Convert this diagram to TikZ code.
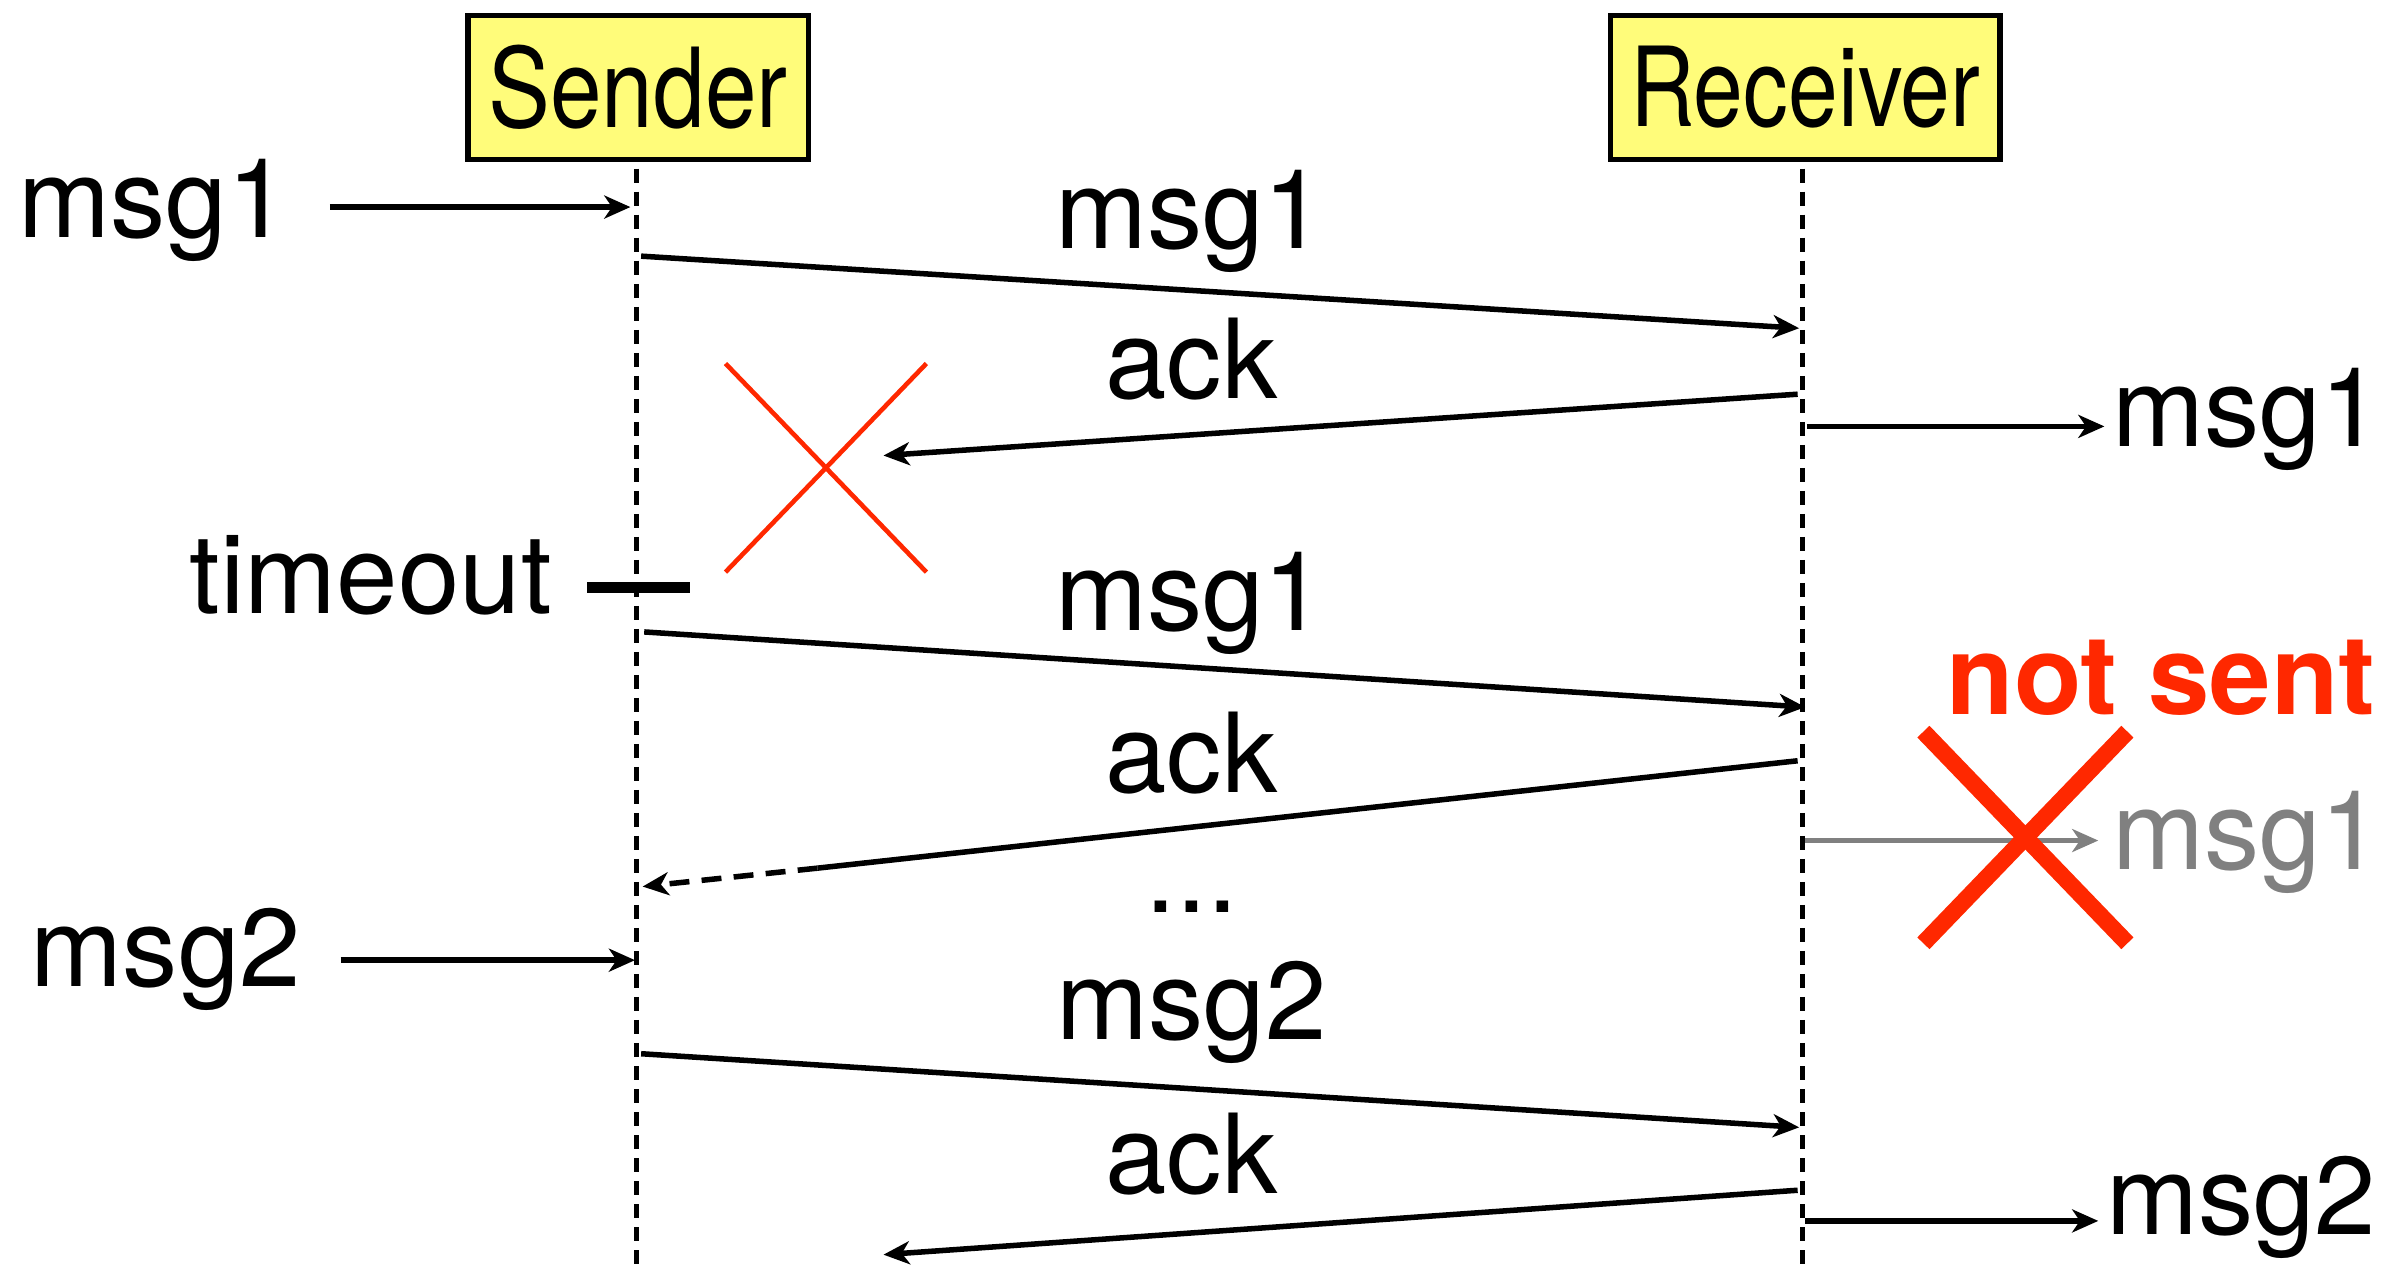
\documentclass[tikz,border=0pt]{standalone}
\usepackage{fontspec}
\setmainfont{TeX Gyre Heros}
\usetikzlibrary{arrows.meta}
\definecolor{boxyellow}{RGB}{255,252,122}
\definecolor{xred}{RGB}{255,40,0}
\definecolor{msggray}{RGB}{128,128,128}
\begin{document}
\begin{tikzpicture}[x=1pt,y=-1pt,
  lbl/.style={font=\fontsize{72}{80}\selectfont, inner sep=0pt, anchor=base},
  actor/.style={draw=black, line width=3.5pt, fill=boxyellow, minimum height=94pt, inner sep=0pt, font=\fontsize{72}{80}\selectfont},
  msgarrow/.style={line width=3.6pt, -{Stealth[length=17pt,width=15pt,inset=5pt]}},
  lifeline/.style={line width=3pt, dash pattern=on 9pt off 6pt},
  crossthin/.style={draw=xred, line width=3pt},
  crossthick/.style={draw=xred, line width=11pt}]
\useasboundingbox (0,0) rectangle (1568,827);
% actors
\node[actor, minimum width=222pt] (sender) at (416,57) {\scalebox{0.84}[1]{Sender}};
\node[actor, minimum width=254pt] (receiver) at (1177,57) {\scalebox{0.81}[1]{Receiver}};
% lifelines
\coordinate (sTop) at (415,110);
\coordinate (sBot) at (415,827);
\coordinate (rTop) at (1175,110);
\coordinate (rBot) at (1175,827);
\draw[lifeline] (sTop) -- (sBot);
\draw[lifeline] (rTop) -- (rBot);
% input msg1
\node[lbl, anchor=base west] (inMsgA) at (12,155) {msg1};
\coordinate (inA1) at (215,135);
\coordinate (inA2) at (411,135);
\draw[msgarrow] (inA1) -- (inA2);
% msg1 first
\node[lbl] (lMsgA) at (776,162) {msg1};
\coordinate (mA1) at (418,167);
\coordinate (mA2) at (1173,214);
\draw[msgarrow] (mA1) -- (mA2);
% ack lost
\node[lbl] (lAckA) at (777,260) {ack};
\coordinate (aA1) at (1172,257);
\coordinate (aA2) at (576,297);
\draw[msgarrow] (aA1) -- (aA2);
\coordinate (xA1) at (473,237);
\coordinate (xA2) at (604,373);
\coordinate (xA3) at (604,237);
\coordinate (xA4) at (473,373);
\draw[crossthin] (xA1) -- (xA2);
\draw[crossthin] (xA3) -- (xA4);
% delivered msg1
\coordinate (dA1) at (1178,278);
\coordinate (dA2) at (1372,278);
\draw[msgarrow] (dA1) -- (dA2);
\node[lbl, anchor=base west] (outMsgA) at (1377,291) {msg1};
% timeout
\node[lbl, anchor=base east] (timeout) at (360,400) {timeout};
\coordinate (tb1) at (383,383);
\coordinate (tb2) at (450,383);
\draw[line width=7pt] (tb1) -- (tb2);
% msg1 resent
\node[lbl] (lMsgB) at (776,411) {msg1};
\coordinate (mB1) at (420,412);
\coordinate (mB2) at (1177,461);
\draw[msgarrow] (mB1) -- (mB2);
% ack second
\node[lbl] (lAckB) at (777,517) {ack};
\coordinate (aB1) at (1172,496);
\coordinate (aB2) at (533,566);
\coordinate (aB3) at (419,578);
\draw[line width=3.6pt] (aB1) -- (aB2);
\draw[msgarrow, dash pattern=on 13pt off 8pt] (aB2) -- (aB3);
% not sent
\node[lbl, font=\fontsize{72}{80}\selectfont\bfseries, text=xred] (notsent) at (1409,466) {not sent};
\coordinate (gA1) at (1177,548);
\coordinate (gA2) at (1368,548);
\draw[msgarrow, draw=msggray, line width=2.8pt] (gA1) -- (gA2);
\node[lbl, anchor=base west, text=msggray] (outMsgB) at (1377,567) {msg1};
\coordinate (xB1) at (1254,477);
\coordinate (xB2) at (1387,615);
\coordinate (xB3) at (1387,477);
\coordinate (xB4) at (1254,615);
\draw[crossthick] (xB1) -- (xB2);
\draw[crossthick] (xB3) -- (xB4);
% dots
\node[lbl] (dots) at (777,595) {...};
% input msg2
\node[lbl, anchor=base west] (inMsgB) at (20,643) {msg2};
\coordinate (inB1) at (222,626);
\coordinate (inB2) at (414,626);
\draw[msgarrow] (inB1) -- (inB2);
% msg2
\node[lbl] (lMsgC) at (777,678) {msg2};
\coordinate (mC1) at (418,687);
\coordinate (mC2) at (1173,735);
\draw[msgarrow] (mC1) -- (mC2);
% ack third
\node[lbl] (lAckC) at (777,778) {ack};
\coordinate (aC1) at (1172,776);
\coordinate (aC2) at (576,818);
\draw[msgarrow] (aC1) -- (aC2);
% delivered msg2
\coordinate (dC1) at (1177,796);
\coordinate (dC2) at (1368,796);
\draw[msgarrow] (dC1) -- (dC2);
\node[lbl, anchor=base west] (outMsgC) at (1373,805) {msg2};
\end{tikzpicture}
\end{document}
